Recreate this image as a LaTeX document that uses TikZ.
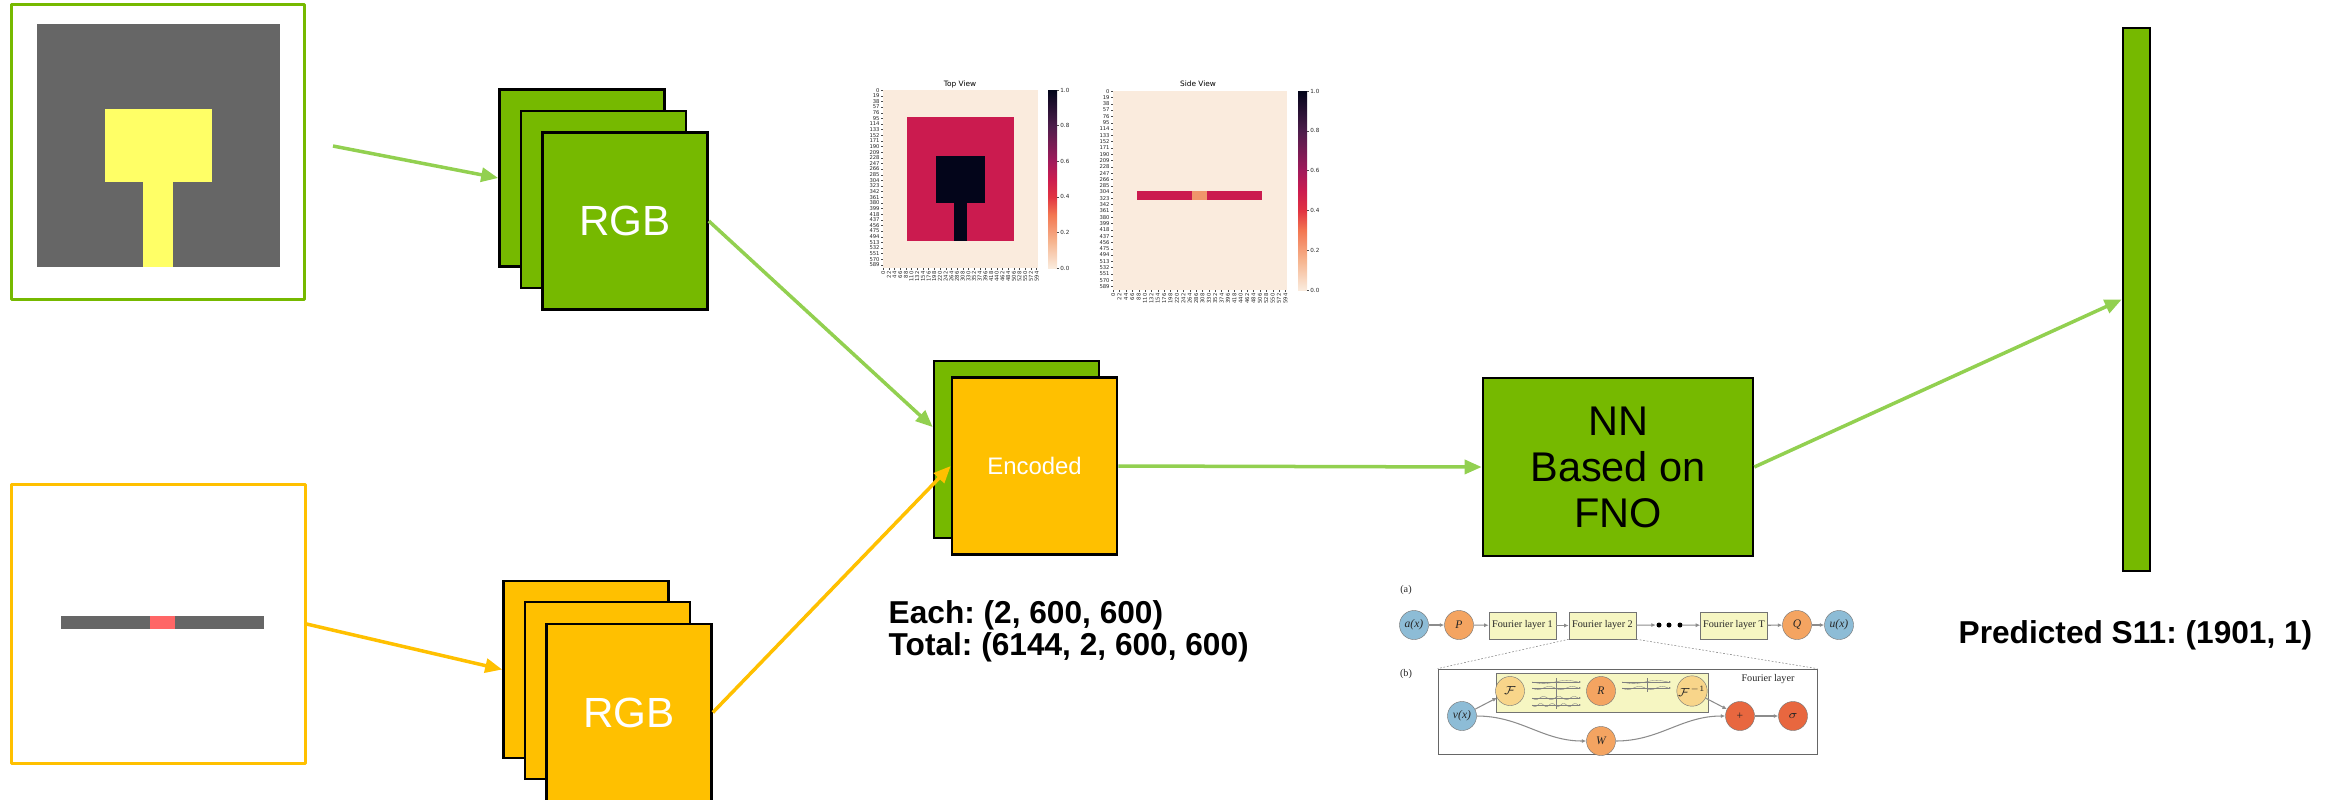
\documentclass[tikz,border=0pt]{standalone}
\usepackage{fix-cm}
\usepackage{fontspec}
\setmainfont{Liberation Sans}
\newfontfamily\serifschrift{Liberation Serif}
\newfontfamily\achsenschrift{DejaVu Sans}
\usetikzlibrary{arrows.meta}
\frenchspacing

% Farben
\definecolor{nvgruen}{HTML}{76B900}
\definecolor{hellgruen}{HTML}{92D050}
\definecolor{orangegelb}{HTML}{FFC000}
\definecolor{flaeche}{HTML}{666666}
\definecolor{patch}{HTML}{FFFF66}
\definecolor{schlitz}{HTML}{FF6666}
% Farbskala (rocket_r)
\definecolor{rka}{HTML}{FAEBDD}
\definecolor{rkb}{HTML}{F6B48E}
\definecolor{rkc}{HTML}{F37651}
\definecolor{rkd}{HTML}{E13342}
\definecolor{rke}{HTML}{CB1B4F}
\definecolor{rkf}{HTML}{A11A5B}
\definecolor{rkg}{HTML}{4C1D4B}
\definecolor{rkh}{HTML}{03051A}
\definecolor{rkorange}{HTML}{F0956B}
% FNO-Skizze
\definecolor{fnoblau}{HTML}{8DBCD6}
\definecolor{fnoorange}{HTML}{F4A461}
\definecolor{fnohell}{HTML}{F8D58A}
\definecolor{fnorot}{HTML}{E8673F}
\definecolor{fnogelb}{HTML}{F6F6C2}

\pgfdeclareverticalshading{rocketr}{100bp}{color(0bp)=(rka); color(25bp)=(rka); color(32.5bp)=(rkb); color(40bp)=(rkc); color(45bp)=(rkd); color(50bp)=(rke); color(55bp)=(rkf); color(65bp)=(rkg); color(75bp)=(rkh); color(100bp)=(rkh)}

\tikzset{
	karte/.style={draw=black, line width=0.025cm, minimum width=1.65cm, minimum height=1.77cm, inner sep=0pt},
	gkarte/.style={karte, fill=nvgruen},
	ykarte/.style={karte, fill=orangegelb},
	pfeilg/.style={draw=hellgruen, line width=0.035cm, -{Triangle[length=0.17cm,width=0.14cm]}},
	pfeily/.style={pfeilg, draw=orangegelb},
	titel/.style={inner sep=0pt, anchor=base west, font=\fontsize{9}{10}\selectfont\bfseries},
	achse/.style={inner sep=0.2pt, font=\fontsize{1.5}{1.6}\achsenschrift, text=black!85},
	tick/.style={line width=0.08pt, black!70},
	fno/.style={font=\fontsize{2.9}{3.2}\serifschrift, text=black!85},
	fnokreis/.style={fno, circle, draw=black!55, line width=0.12pt, minimum size=0.29cm, inner sep=0pt, font=\fontsize{3.3}{3.6}\serifschrift\itshape},
	fnokasten/.style={fno, draw=black!55, line width=0.15pt, fill=fnogelb, minimum width=0.67cm, minimum height=0.27cm, inner sep=0pt},
	fnopfeil/.style={draw=black!45, line width=0.3pt, -{Latex[length=0.045cm,width=0.04cm]}}
}

\begin{document}
\begin{tikzpicture}[x=0.01cm,y=-0.01cm]
	\useasboundingbox (0,0) rectangle (2341,799);
	% Eingangsbilder
	\fill[flaeche] (37,24) rectangle (280,267);
	\fill[patch] (105,109) rectangle (212,182);
	\fill[patch] (143,182) rectangle (173,267);
	\node[draw=nvgruen, line width=0.03cm, line join=round, minimum width=2.92cm, minimum height=2.94cm] (rahmenoben) at (158,152) {};
	\fill[flaeche] (61,616) rectangle (264,629);
	\fill[schlitz] (150,616) rectangle (175,629);
	\node[draw=orangegelb, line width=0.03cm, line join=round, minimum width=2.93cm, minimum height=2.78cm] (rahmenunten) at (158.5,624) {};

	% RGB-Stapel
	\node[gkarte] (gstapela) at (582,178) {};
	\node[gkarte] (gstapelb) at (603.5,199.5) {};
	\node[gkarte, text=white, font=\fontsize{12}{14}\selectfont] (gstapelc) at (625,221) {RGB};
	\node[ykarte] (ystapela) at (586,669.5) {};
	\node[ykarte] (ystapelb) at (607.5,690.5) {};
	\node[ykarte, text=white, font=\fontsize{12}{14}\selectfont] (ystapelc) at (629,712.5) {RGB};

	% kodiertes Paar
	\node[gkarte] (egruen) at (1016.5,449.5) {};
	\node[ykarte, text=white, font=\fontsize{6.8}{8}\selectfont] (egelb) at (1034.5,466) {Encoded};
	\node[titel] (each) at (888,623) {Each: (2, 600, 600)};
	\node[titel] (total) at (888,655) {Total: (6144, 2, 600, 600)};

	% Netz und Ausgabe
	\node[gkarte, minimum width=2.70cm, minimum height=1.78cm, align=center, font=\fontsize{11.8}{13.1}\selectfont] (nn) at (1618,467) {NN\\Based on\\FNO};
	\node[gkarte, minimum width=0.27cm, minimum height=5.43cm] (balken) at (2136.5,299.5) {};
	\node[titel] (s11) at (1958,643) {Predicted S11: (1901, 1)};

	% Pfeile
	\coordinate (quelleoben) at (333,146);
	\draw[pfeilg] (quelleoben) -- (gstapela.west);
	\draw[pfeilg] (gstapelc.east) -- (egruen.165);
	\draw[pfeily] (rahmenunten.east) -- (ystapela.west);
	\draw[pfeily] (ystapelc.east) -- (egelb.west);
	\draw[pfeilg] (egelb.east) -- (nn.west);
	\draw[pfeilg] (nn.east) -- (balken.west);

	% Heatmaps: Draufsicht und Seitenansicht
	\node[font=\fontsize{2.1}{2.2}\achsenschrift, inner sep=0pt] (topview) at (960,84) {Top View};
	\fill[rka] (883,90) rectangle (1038,268);
	\fill[rke] (907,117) rectangle (1014,241);
	\fill[rkh] (936,156) rectangle (985,203);
	\fill[rkh] (954,203) rectangle (967,241);
	\node[font=\fontsize{2.1}{2.2}\achsenschrift, inner sep=0pt] (sideview) at (1198,84) {Side View};
	\fill[rka] (1113,91) rectangle (1287,290);
	\fill[rke] (1137,191) rectangle (1262,200);
	\fill[rkorange] (1192,191) rectangle (1207,200);
	\foreach \xa/\ya/\xb/\yb/\cb in {883/90/1038/268/1048, 1113/91/1287/290/1298}{
		% y-Achse
		\foreach \i in {0,...,31}{
			\pgfmathsetmacro\yy{\ya+(19*\i+0.5)/600*(\yb-\ya)}
			\pgfmathtruncatemacro\lab{19*\i}
			\draw[tick] (\xa-2,\yy) -- (\xa,\yy);
			\node[achse, anchor=east] (ly\xa-\i) at (\xa-2,\yy) {\lab};
		}
		% x-Achse
		\foreach \i in {0,...,27}{
			\pgfmathsetmacro\xx{\xa+(22*\i+0.5)/600*(\xb-\xa)}
			\pgfmathtruncatemacro\lab{22*\i}
			\draw[tick] (\xx,\yb) -- (\xx,\yb+2);
			\node[achse, rotate=90, anchor=east] (lx\xa-\i) at (\xx,\yb+2) {\lab};
		}
		% Farbbalken
		\shade[shading=rocketr] (\cb,\ya) rectangle (\cb+9,\yb);
		\foreach \wert [count=\k from 0] in {0.0,0.2,0.4,0.6,0.8,1.0}{
			\pgfmathsetmacro\yy{\yb-\k/5*(\yb-\ya)}
			\draw[tick] (\cb+9,\yy) -- (\cb+11,\yy);
			\node[achse, anchor=west, font=\fontsize{1.6}{1.7}\achsenschrift] (lc\cb-\k) at (\cb+11,\yy) {\wert};
		}
	}

	% FNO (a)
	\node[fno] (marka) at (1406,590) {(a)};
	\node[fnokreis, fill=fnoblau] (ax) at (1414,625) {a(x)};
	\node[fnokreis, fill=fnoorange] (pp) at (1459,625) {P};
	\node[fnokasten] (fl1) at (1522.5,625.5) {Fourier layer 1};
	\node[fnokasten] (fl2) at (1602.5,625.5) {Fourier layer 2};
	\foreach \i/\px in {1/1659,2/1669,3/1680}
		\node[circle, fill=black, minimum size=0.05cm, inner sep=0pt] (pkt\i) at (\px,625) {};
	\node[fnokasten] (flT) at (1734,625.5) {Fourier layer T};
	\node[fnokreis, fill=fnoorange] (qq) at (1797,625) {Q};
	\node[fnokreis, fill=fnoblau] (ux) at (1839,625) {u(x)};
	\draw[fnopfeil] (ax) -- (pp);
	\draw[fnopfeil] (pp) -- (fl1);
	\draw[fnopfeil] (fl1) -- (fl2);
	\draw[fnopfeil] (fl2) -- (pkt1);
	\draw[fnopfeil] (pkt3) -- (flT);
	\draw[fnopfeil] (flT) -- (qq);
	\draw[fnopfeil] (qq) -- (ux);

	% FNO (b)
	\node[fno] (markb) at (1406,674) {(b)};
	\node[draw=black!60, line width=0.2pt, minimum width=3.79cm, minimum height=0.85cm, inner sep=0pt] (fnob) at (1627.5,711.5) {};
	\draw[black!50, line width=0.15pt, dash pattern=on 0.5pt off 0.5pt] (fl2.south west) -- (fnob.north west);
	\draw[black!50, line width=0.15pt, dash pattern=on 0.5pt off 0.5pt] (fl2.south east) -- (fnob.north east);
	\node[fno] (fltitel) at (1768,679) {Fourier layer};
	\node[draw=black!55, line width=0.15pt, fill=fnogelb, minimum width=2.12cm, minimum height=0.39cm, inner sep=0pt] (spektral) at (1602,692.5) {};
	\node[fnokreis, fill=fnohell] (ff) at (1510,691) {$\mathcal{F}$};
	\node[fnokreis, fill=fnoorange] (rr) at (1601,691) {R};
	\node[fnokreis, fill=fnohell] (finv) at (1692,691) {$\mathcal{F}^{-1}$};
	\node[fnokreis, fill=fnoblau] (vx) at (1462,716) {v(x)};
	\node[fnokreis, fill=fnoorange] (ww) at (1601,741) {W};
	\node[fnokreis, fill=fnorot] (plus) at (1740,716) {\upshape +};
	\node[fnokreis, fill=fnorot] (sig) at (1793,716) {$\sigma$};
	% Wellen
	\foreach \yy/\f in {682/1, 688/2, 698/3, 705/4}
		\draw[black!50, line width=0.1pt] plot[domain=1532:1578, samples=60] (\x, {\yy+1.6*sin((\x-1532)/46*360*\f)});
	\foreach \yy/\f in {682/1, 688/2}
		\draw[black!50, line width=0.1pt] plot[domain=1622:1668, samples=60] (\x, {\yy+1.6*sin((\x-1622)/46*360*\f)});
	\foreach \yy in {682, 688, 698, 705}
		\draw[black!50, line width=0.1pt, -{Latex[length=0.02cm,width=0.02cm]}] (1532,\yy) -- (1581,\yy);
	\foreach \yy in {682, 688}
		\draw[black!50, line width=0.1pt, -{Latex[length=0.02cm,width=0.02cm]}] (1622,\yy) -- (1671,\yy);
	\draw[black!50, line width=0.1pt] (1556,678) -- (1556,709);
	\draw[black!50, line width=0.1pt] (1647,678) -- (1647,692);
	\draw[fnopfeil] (vx) -- (ff);
	\draw[fnopfeil] (finv) -- (plus);
	\draw[fnopfeil] (vx.east) to[out=0,in=180] (ww.west);
	\draw[fnopfeil] (ww.east) to[out=0,in=180] (plus.west);
	\draw[fnopfeil] (plus) -- (sig);
\end{tikzpicture}
\end{document}
